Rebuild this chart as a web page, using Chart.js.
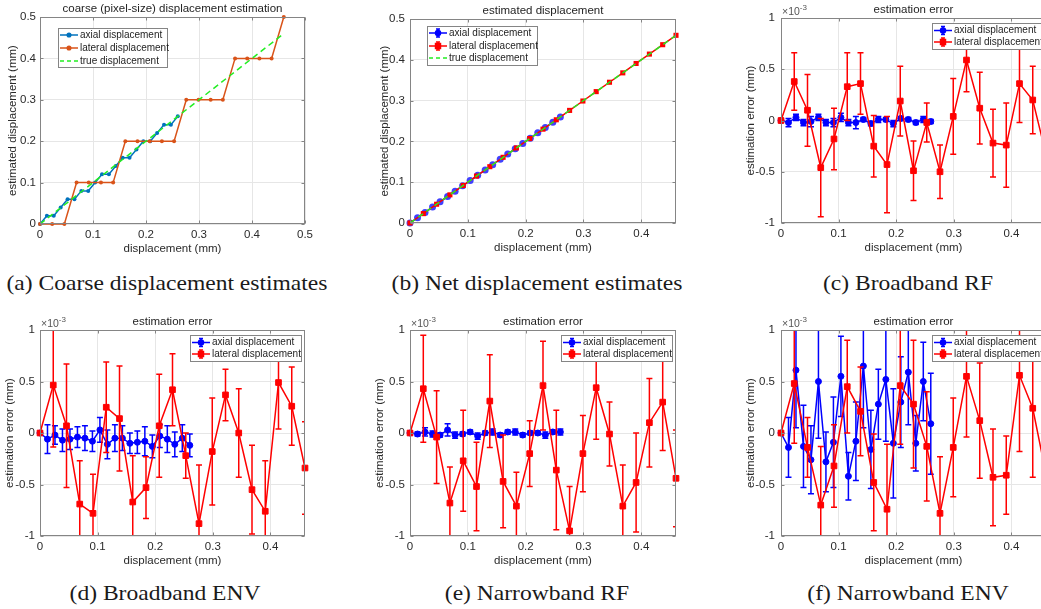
<!DOCTYPE html>
<html>
<head>
<meta charset="utf-8">
<script src="https://cdn.jsdelivr.net/npm/chart.js@4.4.0/dist/chart.umd.min.js"></script>
<style>
    html, body { margin: 0; padding: 0; background: #fff; }
    body { width: 1041px; height: 609px; overflow: hidden; position: relative; }
    canvas { position: absolute; }
    .caption {
        position: absolute;
        font-family: "Liberation Serif", "DejaVu Serif", serif;
        font-size: 22px;
        line-height: 24px;
        color: #1a1a1a;
        white-space: nowrap;
        transform: translateX(-50%) scaleX(1.07);
    }
</style>
</head>
<body>
<canvas id="chartA" width="330" height="260" style="left:0;top:0"></canvas>
<canvas id="chartB" width="340" height="260" style="left:360px;top:0"></canvas>
<canvas id="chartC" width="340" height="260" style="left:720px;top:0"></canvas>
<canvas id="chartD" width="330" height="260" style="left:0;top:312px"></canvas>
<canvas id="chartE" width="340" height="260" style="left:360px;top:312px"></canvas>
<canvas id="chartF" width="340" height="260" style="left:720px;top:312px"></canvas>

<div class="caption" style="left:167px;top:271px">(a) Coarse displacement estimates</div>
<div class="caption" style="left:537px;top:271px">(b) Net displacement estimates</div>
<div class="caption" style="left:908px;top:271px">(c) Broadband RF</div>
<div class="caption" style="left:165px;top:581px">(d) Broadband ENV</div>
<div class="caption" style="left:537px;top:581px">(e) Narrowband RF</div>
<div class="caption" style="left:908px;top:581px">(f) Narrowband ENV</div>

<script>
// sample positions (mm)
const axialX = [0, 0.013, 0.026, 0.039, 0.052, 0.065, 0.078, 0.091, 0.104, 0.117, 0.130,
    0.143, 0.156, 0.169, 0.182, 0.195, 0.208, 0.221, 0.234, 0.247, 0.260];
const lateralX = [0, 0.023, 0.046, 0.069, 0.092, 0.115, 0.138, 0.161, 0.184, 0.207, 0.230,
    0.253, 0.276, 0.299, 0.322, 0.345, 0.368, 0.391, 0.414, 0.437, 0.460];
const trueX = [0, 0.46];
const trueY = [0, 0.46];

// tick labels
const ticksCoarseX = [0, 0.1, 0.2, 0.3, 0.4, 0.5];
const ticksDispX = [0, 0.1, 0.2, 0.3, 0.4];
const ticksDispY = [0, 0.1, 0.2, 0.3, 0.4, 0.5];
const ticksErrY = [-1, -0.5, 0, 0.5, 1];

// (a) coarse estimates (mm)
const coarseAxial = [0, 0.02, 0.02, 0.04, 0.06, 0.06, 0.08, 0.08, 0.10, 0.12, 0.12,
    0.14, 0.16, 0.16, 0.18, 0.20, 0.20, 0.22, 0.24, 0.24, 0.26];
const coarseLateral = [0, 0, 0, 0.1, 0.1, 0.1, 0.1, 0.2, 0.2, 0.2, 0.2,
    0.2, 0.3, 0.3, 0.3, 0.3, 0.4, 0.4, 0.4, 0.4, 0.5];

// (b) net estimates (mm)
const netAxial = [0, 0.013, 0.026, 0.039, 0.052, 0.065, 0.078, 0.091, 0.104, 0.117, 0.130,
    0.143, 0.156, 0.169, 0.182, 0.195, 0.208, 0.221, 0.234, 0.247, 0.260];
const netLateral = [0, 0.023, 0.046, 0.069, 0.092, 0.115, 0.138, 0.161, 0.184, 0.207, 0.230,
    0.253, 0.276, 0.299, 0.322, 0.345, 0.368, 0.391, 0.414, 0.437, 0.460];

// estimation errors, x1e-3 mm (mean and half error bar)
const bbRfAxial = [0, -0.02, 0.03, -0.02, -0.01, 0.03, -0.02, -0.02, 0.03, -0.02, -0.02,
    0.01, -0.03, 0.01, 0.01, -0.03, 0.02, 0.01, -0.02, 0.01, -0.01];
const bbRfAxialErr = [0, 0.04, 0.03, 0.03, 0.05, 0.03, 0.03, 0.04, 0.04, 0.03, 0.06,
    0.02, 0.02, 0.03, 0.02, 0.03, 0.02, 0.02, 0.02, 0.03, 0.02];
const bbRfLateral = [0, 0.38, 0.10, -0.46, -0.18, 0.33, 0.36, -0.25, -0.43, 0.19, -0.49,
    -0.02, -0.50, 0.04, 0.59, 0.12, -0.22, -0.24, 0.36, 0.20, -0.33];
const bbRfLateralErr = [0, 0.28, 0.35, 0.48, 0.30, 0.33, 0.30, 0.30, 0.47, 0.34, 0.29,
    0.19, 0.26, 0.37, 0.31, 0.35, 0.33, 0.41, 0.38, 0.33, 0.35];

const bbEnvAxial = [0, -0.06, -0.02, -0.07, -0.06, -0.04, -0.05, -0.08, 0.03, -0.11, -0.05,
    -0.05, -0.10, -0.09, -0.08, -0.13, -0.03, -0.06, -0.11, -0.05, -0.12];
const bbEnvAxialErr = [0, 0.14, 0.09, 0.11, 0.10, 0.10, 0.12, 0.10, 0.12, 0.14, 0.13,
    0.12, 0.10, 0.11, 0.14, 0.11, 0.11, 0.13, 0.12, 0.13, 0.11];
const bbEnvLateral = [0, 0.465, 0.07, -0.69, -0.78, 0.25, 0.14, -0.67, -0.53, 0.07, 0.42,
    -0.22, -0.88, -0.18, 0.37, 0.00, -0.55, -0.76, 0.49, 0.26, -0.34];
const bbEnvLateralErr = [0, 0.60, 0.60, 0.42, 0.38, 0.44, 0.51, 0.45, 0.30, 0.50, 0.35,
    0.22, 0.57, 0.52, 0.25, 0.43, 0.43, 0.49, 0.45, 0.38, 0.45];

const nbRfAxial = [0, -0.01, 0.01, -0.01, -0.02, 0.03, -0.02, -0.01, 0.01, -0.03, 0.00,
    0.01, -0.02, 0.01, 0.01, -0.02, 0.00, 0.00, -0.02, 0.01, 0.01];
const nbRfAxialErr = [0, 0.02, 0.04, 0.03, 0.02, 0.06, 0.03, 0.02, 0.02, 0.03, 0.02,
    0.03, 0.02, 0.02, 0.03, 0.02, 0.02, 0.02, 0.03, 0.02, 0.03];
const nbRfLateral = [0, 0.43, -0.04, -0.68, -0.27, -0.52, 0.31, -0.47, -0.71, -0.20, 0.46,
    -0.36, -0.95, -0.20, 0.44, -0.01, -0.71, -0.48, 0.10, 0.30, -0.44];
const nbRfLateralErr = [0, 0.52, 0.45, 0.35, 0.49, 0.43, 0.45, 0.45, 0.33, 0.32, 0.43,
    0.58, 0.43, 0.37, 0.50, 0.31, 0.40, 0.48, 0.43, 0.47, 0.47];

const nbEnvAxial = [0, -0.14, 0.61, -0.13, -0.26, 0.50, -0.28, -0.09, 0.55, -0.42, -0.08,
    0.65, -0.16, 0.28, 0.52, -0.10, 0.30, 0.59, -0.10, 0.50, 0.09];
const nbEnvAxialErr = [0, 0.29, 0.56, 0.40, 0.33, 0.55, 0.29, 0.44, 0.39, 0.23, 0.38,
    0.60, 0.38, 0.34, 0.60, 0.53, 0.44, 0.51, 0.27, 0.38, 0.49];
const nbEnvLateral = [0, 0.48, -0.14, -0.70, -0.32, 0.45, 0.21, -0.48, -0.74, 0.46, 0.28,
    -0.13, -0.78, -0.14, 0.55, 0.12, -0.43, -0.41, 0.56, 0.24, -0.40];
const nbEnvLateralErr = [0, 0.58, 0.29, 0.57, 0.40, 0.45, 0.43, 0.47, 0.63, 0.57, 0.62,
    0.53, 0.55, 0.48, 0.59, 0.56, 0.47, 0.38, 0.74, 0.67, 0.45];

const FONT = '"Liberation Sans", Arial, sans-serif';
const TEXT = '#2a2a2a';
const BOX = '#858585';
const GRID = '#e6e6e6';

function pts(xs, ys) {
    return xs.map((x, i) => ({ x, y: ys[i] }));
}

// vertical error bars with caps, clipped to the axes
const errorBarPlugin = {
    id: 'errorBars',
    afterDatasetDraw(chart, args) {
        const ds = chart.data.datasets[args.index];
        if (!ds.errors) return;
        const ctx = chart.ctx;
        const a = chart.chartArea;
        const yScale = chart.scales.y;
        ctx.save();
        ctx.beginPath();
        ctx.rect(a.left, a.top, a.right - a.left, a.bottom - a.top);
        ctx.clip();
        ctx.strokeStyle = ds.borderColor;
        ctx.lineWidth = ds.borderWidth;
        args.meta.data.forEach((pt, i) => {
            const e = ds.errors[i];
            if (!e) return;
            const v = ds.data[i].y;
            const yTop = yScale.getPixelForValue(v + e);
            const yBot = yScale.getPixelForValue(v - e);
            ctx.beginPath();
            ctx.moveTo(pt.x, yTop); ctx.lineTo(pt.x, yBot);
            ctx.moveTo(pt.x - 3, yTop); ctx.lineTo(pt.x + 3, yTop);
            ctx.moveTo(pt.x - 3, yBot); ctx.lineTo(pt.x + 3, yBot);
            ctx.stroke();
        });
        ctx.restore();
    }
};

// box, inward ticks, title and axis labels
const axesPlugin = {
    id: 'matlabAxes',
    afterDatasetsDraw(chart, args, o) {
        const { ctx, chartArea: a, scales: { x, y } } = chart;
        ctx.save();
        ctx.strokeStyle = BOX;
        ctx.lineWidth = 1;
        const L = Math.round(a.left) + 0.5, R = Math.round(a.right) - 0.5;
        const T = Math.round(a.top) + 0.5, B = Math.round(a.bottom) - 0.5;
        ctx.strokeRect(L, T, R - L, B - T);
        ctx.beginPath();
        x.ticks.forEach(t => {
            const px = Math.round(x.getPixelForValue(t.value)) + 0.5;
            ctx.moveTo(px, B); ctx.lineTo(px, B - 3);
            ctx.moveTo(px, T); ctx.lineTo(px, T + 3);
        });
        y.ticks.forEach(t => {
            const py = Math.round(y.getPixelForValue(t.value)) + 0.5;
            ctx.moveTo(L, py); ctx.lineTo(L + 3, py);
            ctx.moveTo(R, py); ctx.lineTo(R - 3, py);
        });
        ctx.stroke();
        ctx.restore();
    },
    afterDraw(chart, args, o) {
        const { ctx, chartArea: a } = chart;
        ctx.save();
        ctx.fillStyle = '#1e1e1e';
        ctx.font = '11.5px ' + FONT;
        ctx.textAlign = 'center';
        ctx.textBaseline = 'middle';
        ctx.fillText(o.title, (a.left + a.right) / 2, a.top - 8);
        ctx.fillStyle = TEXT;
        ctx.fillText(o.xLabel, (a.left + a.right) / 2, a.bottom + 25);
        ctx.save();
        ctx.translate(a.left - o.yLabelOffset, (a.top + a.bottom) / 2);
        ctx.rotate(-Math.PI / 2);
        ctx.fillText(o.yLabel, 0, 0);
        ctx.restore();
        if (o.exponent) {
            ctx.textAlign = 'left';
            ctx.textBaseline = 'alphabetic';
            ctx.fillStyle = '#555';
            ctx.font = '10.5px ' + FONT;
            ctx.fillText('\u00d710', a.left + 1, a.top - 3);
            const w = ctx.measureText('\u00d710').width;
            ctx.font = '8px ' + FONT;
            ctx.fillText(o.exponent, a.left + 1 + w, a.top - 8);
        }
        ctx.restore();
    }
};

// boxed legend with line, marker and optional error bar glyph
const legendPlugin = {
    id: 'matlabLegend',
    afterDraw(chart, args, o) {
        if (!o.items) return;
        const ctx = chart.ctx;
        ctx.save();
        ctx.fillStyle = '#fff';
        ctx.fillRect(o.x, o.y, o.w, o.h);
        ctx.strokeStyle = BOX;
        ctx.lineWidth = 1;
        ctx.strokeRect(o.x + 0.5, o.y + 0.5, o.w, o.h);
        o.items.forEach((it, i) => {
            const yy = o.rows[i];
            const xm = (o.sx0 + o.sx1) / 2;
            ctx.strokeStyle = it.color;
            ctx.lineWidth = it.width;
            ctx.setLineDash(it.dash || []);
            ctx.beginPath();
            ctx.moveTo(o.sx0, yy); ctx.lineTo(o.sx1, yy);
            ctx.stroke();
            ctx.setLineDash([]);
            if (it.errbar) {
                ctx.beginPath();
                ctx.moveTo(xm, yy - 4); ctx.lineTo(xm, yy + 4);
                ctx.moveTo(xm - 2, yy - 4); ctx.lineTo(xm + 2, yy - 4);
                ctx.moveTo(xm - 2, yy + 4); ctx.lineTo(xm + 2, yy + 4);
                ctx.stroke();
            }
            if (it.marker) {
                ctx.fillStyle = it.color;
                Chart.helpers.drawPoint(ctx, {
                    pointStyle: it.marker, radius: it.radius, borderWidth: 1, rotation: 0
                }, xm, yy);
            }
            ctx.fillStyle = '#1e1e1e';
            ctx.font = '10px ' + FONT;
            ctx.textAlign = 'left';
            ctx.textBaseline = 'middle';
            ctx.fillText(it.label, o.tx, yy);
        });
        ctx.restore();
    }
};

function makeChart(id, p) {
    const tickFont = { family: FONT, size: 11.5 };
    return new Chart(document.getElementById(id), {
        type: 'scatter',
        data: { datasets: p.datasets },
        options: {
            responsive: false,
            animation: false,
            devicePixelRatio: 1,
            layout: { autoPadding: false, padding: { top: p.top, right: p.right, left: 0, bottom: 0 } },
            elements: { line: { tension: 0 } },
            plugins: {
                legend: { display: false },
                tooltip: { enabled: false },
                matlabAxes: {
                    title: p.title, xLabel: 'displacement (mm)', yLabel: p.yLabel,
                    yLabelOffset: p.yLabelOffset, exponent: p.exponent
                },
                matlabLegend: p.legend
            },
            scales: {
                x: {
                    type: 'linear', min: p.xMin, max: p.xMax,
                    afterBuildTicks: s => { s.ticks = p.xTicks.map(v => ({ value: v })); },
                    afterFit: s => { s.height = p.bottom; },
                    grid: { color: GRID, drawTicks: false },
                    border: { display: false },
                    ticks: { font: tickFont, color: TEXT, padding: 4, maxRotation: 0, autoSkip: false,
                        callback: v => String(v) }
                },
                y: {
                    type: 'linear', min: p.yMin, max: p.yMax,
                    afterBuildTicks: s => { s.ticks = p.yTicks.map(v => ({ value: v })); },
                    afterFit: s => { s.width = p.left; },
                    grid: { color: GRID, drawTicks: false },
                    border: { display: false },
                    ticks: { font: tickFont, color: TEXT, padding: p.yPad, autoSkip: false,
                        callback: v => String(v) }
                }
            }
        },
        plugins: [errorBarPlugin, axesPlugin, legendPlugin]
    });
}

// later series are drawn on top (lower order = drawn last)
function errSeries(xs, ys, errs, color, style, radius, order) {
    return {
        data: pts(xs, ys), errors: errs, showLine: true, clip: false, order,
        borderColor: color, backgroundColor: color, borderWidth: 1.5,
        pointStyle: style, pointRadius: radius, pointBorderWidth: 1
    };
}

const errLegendItems = [
    { label: 'axial displacement', color: '#0000ff', width: 1.5, marker: 'circle', radius: 2.5, errbar: true },
    { label: 'lateral displacement', color: '#ff0000', width: 1.5, marker: 'rect', radius: 3.5, errbar: true }
];

function errPanel(id, axialY, axialE, latY, latE, row, col) {
    const geo = col === 0 ? { left: 40, right: 25, yPad: 5, lx: 190 }
        : col === 1 ? { left: 50, right: 24, yPad: 5, lx: 201 }
        : { left: 61, right: 14, yPad: 6, lx: 212 };
    const ly = 23;
    makeChart(id, {
        title: 'estimation error', yLabel: 'estimation error (mm)', exponent: '-3',
        top: 18, bottom: row === 0 ? 37 : 36,
        left: geo.left, right: geo.right, yLabelOffset: 30, yPad: geo.yPad,
        xMin: 0, xMax: 0.46, xTicks: ticksDispX,
        yMin: -1, yMax: 1, yTicks: ticksErrY,
        datasets: [
            errSeries(axialX, axialY, axialE, '#0000ff', 'circle', 3, 2),
            errSeries(lateralX, latY, latE, '#ff0000', 'rect', 4, 1)
        ],
        legend: {
            x: geo.lx, y: ly, w: 111, h: 26, rows: [ly + 7.5, ly + 19],
            sx0: geo.lx + 2, sx1: geo.lx + 20, tx: geo.lx + 22, items: errLegendItems
        }
    });
}

// (a) coarse (pixel-size) estimates
makeChart('chartA', {
    title: 'coarse (pixel-size) displacement estimation',
    yLabel: 'estimated displacement (mm)',
    top: 17, bottom: 36, left: 40, right: 25, yLabelOffset: 27, yPad: 4,
    xMin: 0, xMax: 0.5, xTicks: ticksCoarseX,
    yMin: 0, yMax: 0.5, yTicks: ticksDispY,
    datasets: [
        { data: pts(axialX, coarseAxial), showLine: true, clip: false, order: 3, borderColor: '#0072bd',
          backgroundColor: '#0072bd', borderWidth: 1.5, pointRadius: 2, pointBorderWidth: 0 },
        { data: pts(lateralX, coarseLateral), showLine: true, clip: false, order: 2, borderColor: '#d95319',
          backgroundColor: '#d95319', borderWidth: 1.5, pointRadius: 2, pointBorderWidth: 0 },
        { data: pts(trueX, trueY), showLine: true, order: 1, borderColor: '#22ee22', borderWidth: 1.5,
          borderDash: [6, 4], pointRadius: 0 }
    ],
    legend: {
        x: 58, y: 28, w: 109, h: 39, rows: [35, 48, 61], sx0: 60, sx1: 78, tx: 80,
        items: [
            { label: 'axial displacement', color: '#0072bd', width: 1.5, marker: 'circle', radius: 1.8 },
            { label: 'lateral displacement', color: '#d95319', width: 1.5, marker: 'circle', radius: 1.8 },
            { label: 'true displacement', color: '#22ee22', width: 1.5, dash: [4, 3] }
        ]
    }
});

// (b) net estimates
makeChart('chartB', {
    title: 'estimated displacement',
    yLabel: 'estimated displacement (mm)',
    top: 19, bottom: 37, left: 50, right: 24, yLabelOffset: 25, yPad: 5,
    xMin: 0, xMax: 0.46, xTicks: ticksDispX,
    yMin: 0, yMax: 0.5, yTicks: ticksDispY,
    datasets: [
        { data: pts(axialX, netAxial), showLine: true, clip: false, order: 3, borderColor: '#2a2aff',
          backgroundColor: '#4040ff', borderWidth: 1.5, pointStyle: 'circle', pointRadius: 3.5, pointBorderWidth: 0 },
        { data: pts(lateralX, netLateral), showLine: true, clip: false, order: 2, borderColor: '#ff0000',
          backgroundColor: '#ff0000', borderWidth: 1.5, pointStyle: 'rect', pointRadius: 3.6, pointBorderWidth: 0 },
        { data: pts(trueX, trueY), showLine: true, order: 1, borderColor: '#22ee22', borderWidth: 1.5,
          borderDash: [6, 4], pointRadius: 0 }
    ],
    legend: {
        x: 67, y: 26, w: 110, h: 39, rows: [33, 46, 58], sx0: 69, sx1: 87, tx: 89,
        items: [
            { label: 'axial displacement', color: '#0000ff', width: 1.5, marker: 'circle', radius: 2.5, errbar: true },
            { label: 'lateral displacement', color: '#ff0000', width: 1.5, marker: 'rect', radius: 3.5, errbar: true },
            { label: 'true displacement', color: '#22ee22', width: 1.5, dash: [4, 3] }
        ]
    }
});

errPanel('chartC', bbRfAxial, bbRfAxialErr, bbRfLateral, bbRfLateralErr, 0, 2);
errPanel('chartD', bbEnvAxial, bbEnvAxialErr, bbEnvLateral, bbEnvLateralErr, 1, 0);
errPanel('chartE', nbRfAxial, nbRfAxialErr, nbRfLateral, nbRfLateralErr, 1, 1);
errPanel('chartF', nbEnvAxial, nbEnvAxialErr, nbEnvLateral, nbEnvLateralErr, 1, 2);
</script>
</body>
</html>
